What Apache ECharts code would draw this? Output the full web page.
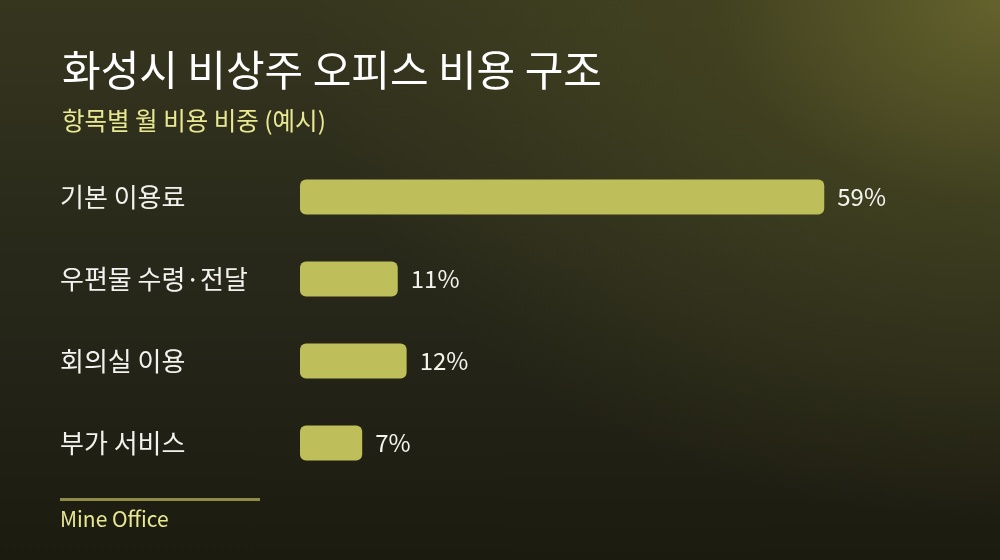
<!DOCTYPE html>
<html>
<head>
<meta charset="utf-8">
<script src="https://cdn.jsdelivr.net/npm/echarts@6/dist/echarts.min.js"></script>
<style>
  html, body { margin: 0; padding: 0; }
  body {
    width: 1000px; height: 560px; overflow: hidden;
    background:
      radial-gradient(ellipse 700px 520px at 100% 0%, rgba(100,98,44,1) 0%, rgba(72,72,34,0.65) 40%, rgba(40,40,22,0) 100%),
      linear-gradient(180deg, #36361f 0%, #27271a 50%, #1c1b10 100%);
  }
  #chart { width: 1000px; height: 560px; }
</style>
</head>
<body>
<div id="chart"></div>
<script>
// 항목 (위에서 아래 순서)
const categories = ['기본 이용료', '우편물 수령·전달', '회의실 이용', '부가 서비스']
const shares = [59, 11, 12, 7]

const chart = echarts.init(document.getElementById('chart'))
const font = "'Noto Sans CJK KR', 'Noto Sans', sans-serif"

chart.setOption({
  backgroundColor: 'transparent',
  animation: false,
  title: {
    text: '화성시 비상주 오피스 비용 구조',
    subtext: '항목별 월 비용 비중 (예시)',
    left: 57,
    top: 44,
    itemGap: 17,
    textStyle: { color: '#ffffff', fontSize: 42, fontWeight: 'normal', fontFamily: font },
    subtextStyle: { color: '#e8e892', fontSize: 24.5, fontFamily: font }
  },
  grid: { left: 300, right: 78, top: 156, bottom: 76, containLabel: false },
  xAxis: {
    type: 'value',
    min: 0,
    max: 70,
    show: false
  },
  yAxis: {
    type: 'category',
    inverse: true,
    data: categories,
    axisLine: { show: false },
    axisTick: { show: false },
    axisLabel: {
      color: '#f2f2ee',
      fontSize: 26,
      fontFamily: font,
      align: 'left',
      margin: 240,
      padding: [0, 0, 6, 0]
    }
  },
  series: [{
    type: 'bar',
    data: shares,
    barWidth: 35,
    itemStyle: { color: '#bebe5a', borderRadius: 6 },
    label: {
      show: true,
      position: 'right',
      distance: 13,
      color: '#f4f4ee',
      fontSize: 24,
      fontFamily: font,
      formatter: p => p.value + '%'
    }
  }],
  graphic: [
    {
      type: 'rect',
      shape: { x: 60, y: 498, width: 200, height: 3 },
      style: { fill: '#8e8c48' }
    },
    {
      type: 'text',
      left: 60,
      top: 509,
      style: { text: 'Mine Office', fill: '#e8e892', fontSize: 21, fontFamily: font }
    }
  ]
})
</script>
</body>
</html>
